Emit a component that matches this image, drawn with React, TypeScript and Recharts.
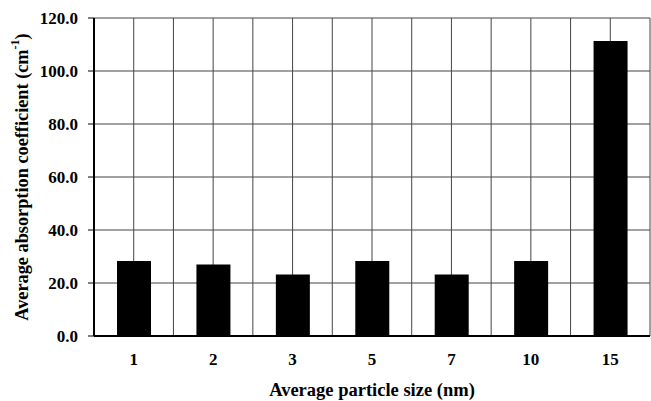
import { Bar, BarChart, CartesianGrid, Label, XAxis, YAxis } from 'recharts';

const sizes = ['1', '2', '3', '5', '7', '10', '15'];
const absorption = [28.3, 27.0, 23.2, 28.3, 23.2, 28.3, 111.3];
const yTicks = [0, 20, 40, 60, 80, 100, 120];

const data = sizes.map((size, i) => ({ size, value: absorption[i] }));

const FONT = '"Liberation Serif", "Times New Roman", serif';

function YTitle({ viewBox }: any) {
  const cx = 22;
  const cy = viewBox.y + viewBox.height / 2;
  return (
    <text
      x={cx}
      y={cy}
      transform={`rotate(-90 ${cx} ${cy})`}
      textAnchor="middle"
      dominantBaseline="central"
      fontFamily={FONT}
      fontWeight="bold"
      fontSize={18.3}
      fill="#000"
    >
      Average absorption  coefficient (cm
      <tspan dy={-7} fontSize={12}>-1</tspan>
      <tspan dy={7}>)</tspan>
    </text>
  );
}

function XTitle({ viewBox }: any) {
  return (
    <text
      x={viewBox.x + viewBox.width / 2}
      y={396}
      textAnchor="middle"
      fontFamily={FONT}
      fontWeight="bold"
      fontSize={18.5}
      fill="#000"
    >
      Average particle size (nm)
    </text>
  );
}

export default function App() {
  return (
    <div style={{ position: 'absolute', left: 0, top: 0, width: 651, height: 401, background: '#fff' }}>
      <BarChart
        width={651}
        height={401}
        data={data}
        margin={{ top: 18, right: 1, left: 0, bottom: 0 }}
        barSize={34}
      >
        <CartesianGrid
          stroke="#444"
          strokeWidth={1}
          verticalCoordinatesGenerator={({ offset }: any) =>
            Array.from({ length: sizes.length * 2 + 1 }, (_, i) => offset.left + (i * offset.width) / (sizes.length * 2))
          }
        />
        <XAxis
          dataKey="size"
          height={65}
          axisLine={{ stroke: '#000', strokeWidth: 2 }}
          tickLine={false}
          tickMargin={11}
          tick={{ fill: '#000', fontSize: 17, fontWeight: 'bold', fontFamily: FONT }}
        >
          <Label content={<XTitle />} />
        </XAxis>
        <XAxis xAxisId="top" orientation="top" dataKey="size" height={0} tick={false} tickLine={false} axisLine={{ stroke: '#000', strokeWidth: 2 }} />
        <YAxis
          width={94}
          domain={[0, 120]}
          ticks={yTicks}
          interval={0}
          tickFormatter={(v: number) => v.toFixed(1)}
          axisLine={{ stroke: '#000', strokeWidth: 2 }}
          tickLine={{ stroke: '#000', strokeWidth: 1 }}
          tickSize={6}
          tickMargin={10}
          tick={{ fill: '#000', fontSize: 17, fontWeight: 'bold', fontFamily: FONT }}
        >
          <Label content={<YTitle />} />
        </YAxis>
        <YAxis yAxisId="right" orientation="right" width={0} domain={[0, 120]} tick={false} tickLine={false} axisLine={{ stroke: '#000', strokeWidth: 1 }} />
        <Bar dataKey="value" fill="#000" isAnimationActive={false} />
      </BarChart>
    </div>
  );
}
